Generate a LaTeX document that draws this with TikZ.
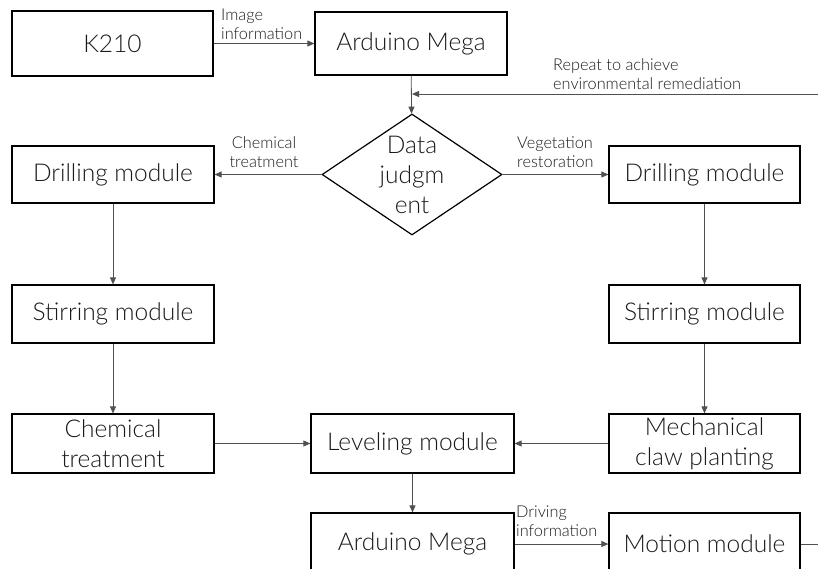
\documentclass[tikz,border=0pt]{standalone}
\usepackage{fontspec}
\setmainfont{Lato}[UprightFont=* Light]
\usetikzlibrary{arrows.meta,shapes.geometric}
\definecolor{linegray}{HTML}{505050}
\definecolor{textblack}{HTML}{1A1A1A}
\tikzset{
  box/.style={draw=black, line width=1.2pt, fill=white, text=textblack, align=center,
    font=\fontsize{24.5}{30}\selectfont, inner sep=0pt},
  lab/.style={text=textblack, font=\fontsize{16.3}{19}\selectfont, inner sep=0pt},
  arr/.style={draw=linegray, line width=0.8pt, -{Triangle[length=7pt,width=6pt]}},
  plain/.style={draw=linegray, line width=0.8pt},
}
\begin{document}
\begin{tikzpicture}[x=1pt,y=-1pt]
\useasboundingbox (0,0) rectangle (818,568);
\begin{scope}
\clip (0,0) rectangle (818,568);
\node[box, minimum width=201, minimum height=65] (k210) at (112.5,43.5) {K210};
\node[box, minimum width=192, minimum height=63] (ardtop) at (411,43.5) {Arduino Mega};
\node[draw=black, line width=1.2pt, diamond, minimum width=180, minimum height=121, inner sep=0pt] (dj) at (412,174.5) {};
\node[text=textblack, align=center, font=\fontsize{24.5}{30}\selectfont, inner sep=0pt] (djt) at (412,174.5) {Data\\judgm\\ent};
\node[box, minimum width=202, minimum height=57] (drl) at (113,174.5) {Drilling module};
\node[box, minimum width=191, minimum height=57] (drr) at (704.5,174.5) {Drilling module};
\node[box, minimum width=202, minimum height=58] (stl) at (113,314) {Stirring module};
\node[box, minimum width=191, minimum height=58] (str) at (704.5,314) {Stirring module};
\node[box, minimum width=202, minimum height=59] (chem) at (113,443.5) {Chemical\\treatment};
\node[box, minimum width=203, minimum height=59] (lev) at (412.5,443.5) {Leveling module};
\node[box, minimum width=191, minimum height=59] (mech) at (704.5,443.5) {Mechanical\\claw planting};
\node[box, minimum width=203, minimum height=62] (ardbot) at (412.5,544) {Arduino Mega};
\node[box, minimum width=191, minimum height=62] (motion) at (704.5,544) {Motion module};

\coordinate (fbstart) at (818,94);
\coordinate (fbend) at (412,94);
\coordinate (outend) at (818,544);

\draw[arr] (k210) -- (ardtop);
\draw[arr] (ardtop) -- (dj);
\draw[arr] (fbstart) -- (fbend);
\draw[arr] (dj) -- (drl);
\draw[arr] (dj) -- (drr);
\draw[arr] (drl) -- (stl);
\draw[arr] (drr) -- (str);
\draw[arr] (stl) -- (chem);
\draw[arr] (str) -- (mech);
\draw[arr] (chem) -- (lev);
\draw[arr] (mech) -- (lev);
\draw[arr] (lev) -- (ardbot);
\draw[arr] (ardbot) -- (motion);
\draw[plain] (motion) -- (outend);

\node[lab, anchor=west, align=left] (l1) at (221,24.5) {Image\\information};
\node[lab, anchor=west, align=left] (l2) at (553,74.5) {Repeat to achieve\\environmental remediation};
\node[lab, anchor=center, align=center] (l3) at (264,152) {Chemical\\treatment};
\node[lab, anchor=west, align=left] (l4) at (517,152) {Vegetation\\restoration};
\node[lab, anchor=west, align=left] (l5) at (516,521.5) {Driving\\information};
\end{scope}
\end{tikzpicture}
\end{document}
